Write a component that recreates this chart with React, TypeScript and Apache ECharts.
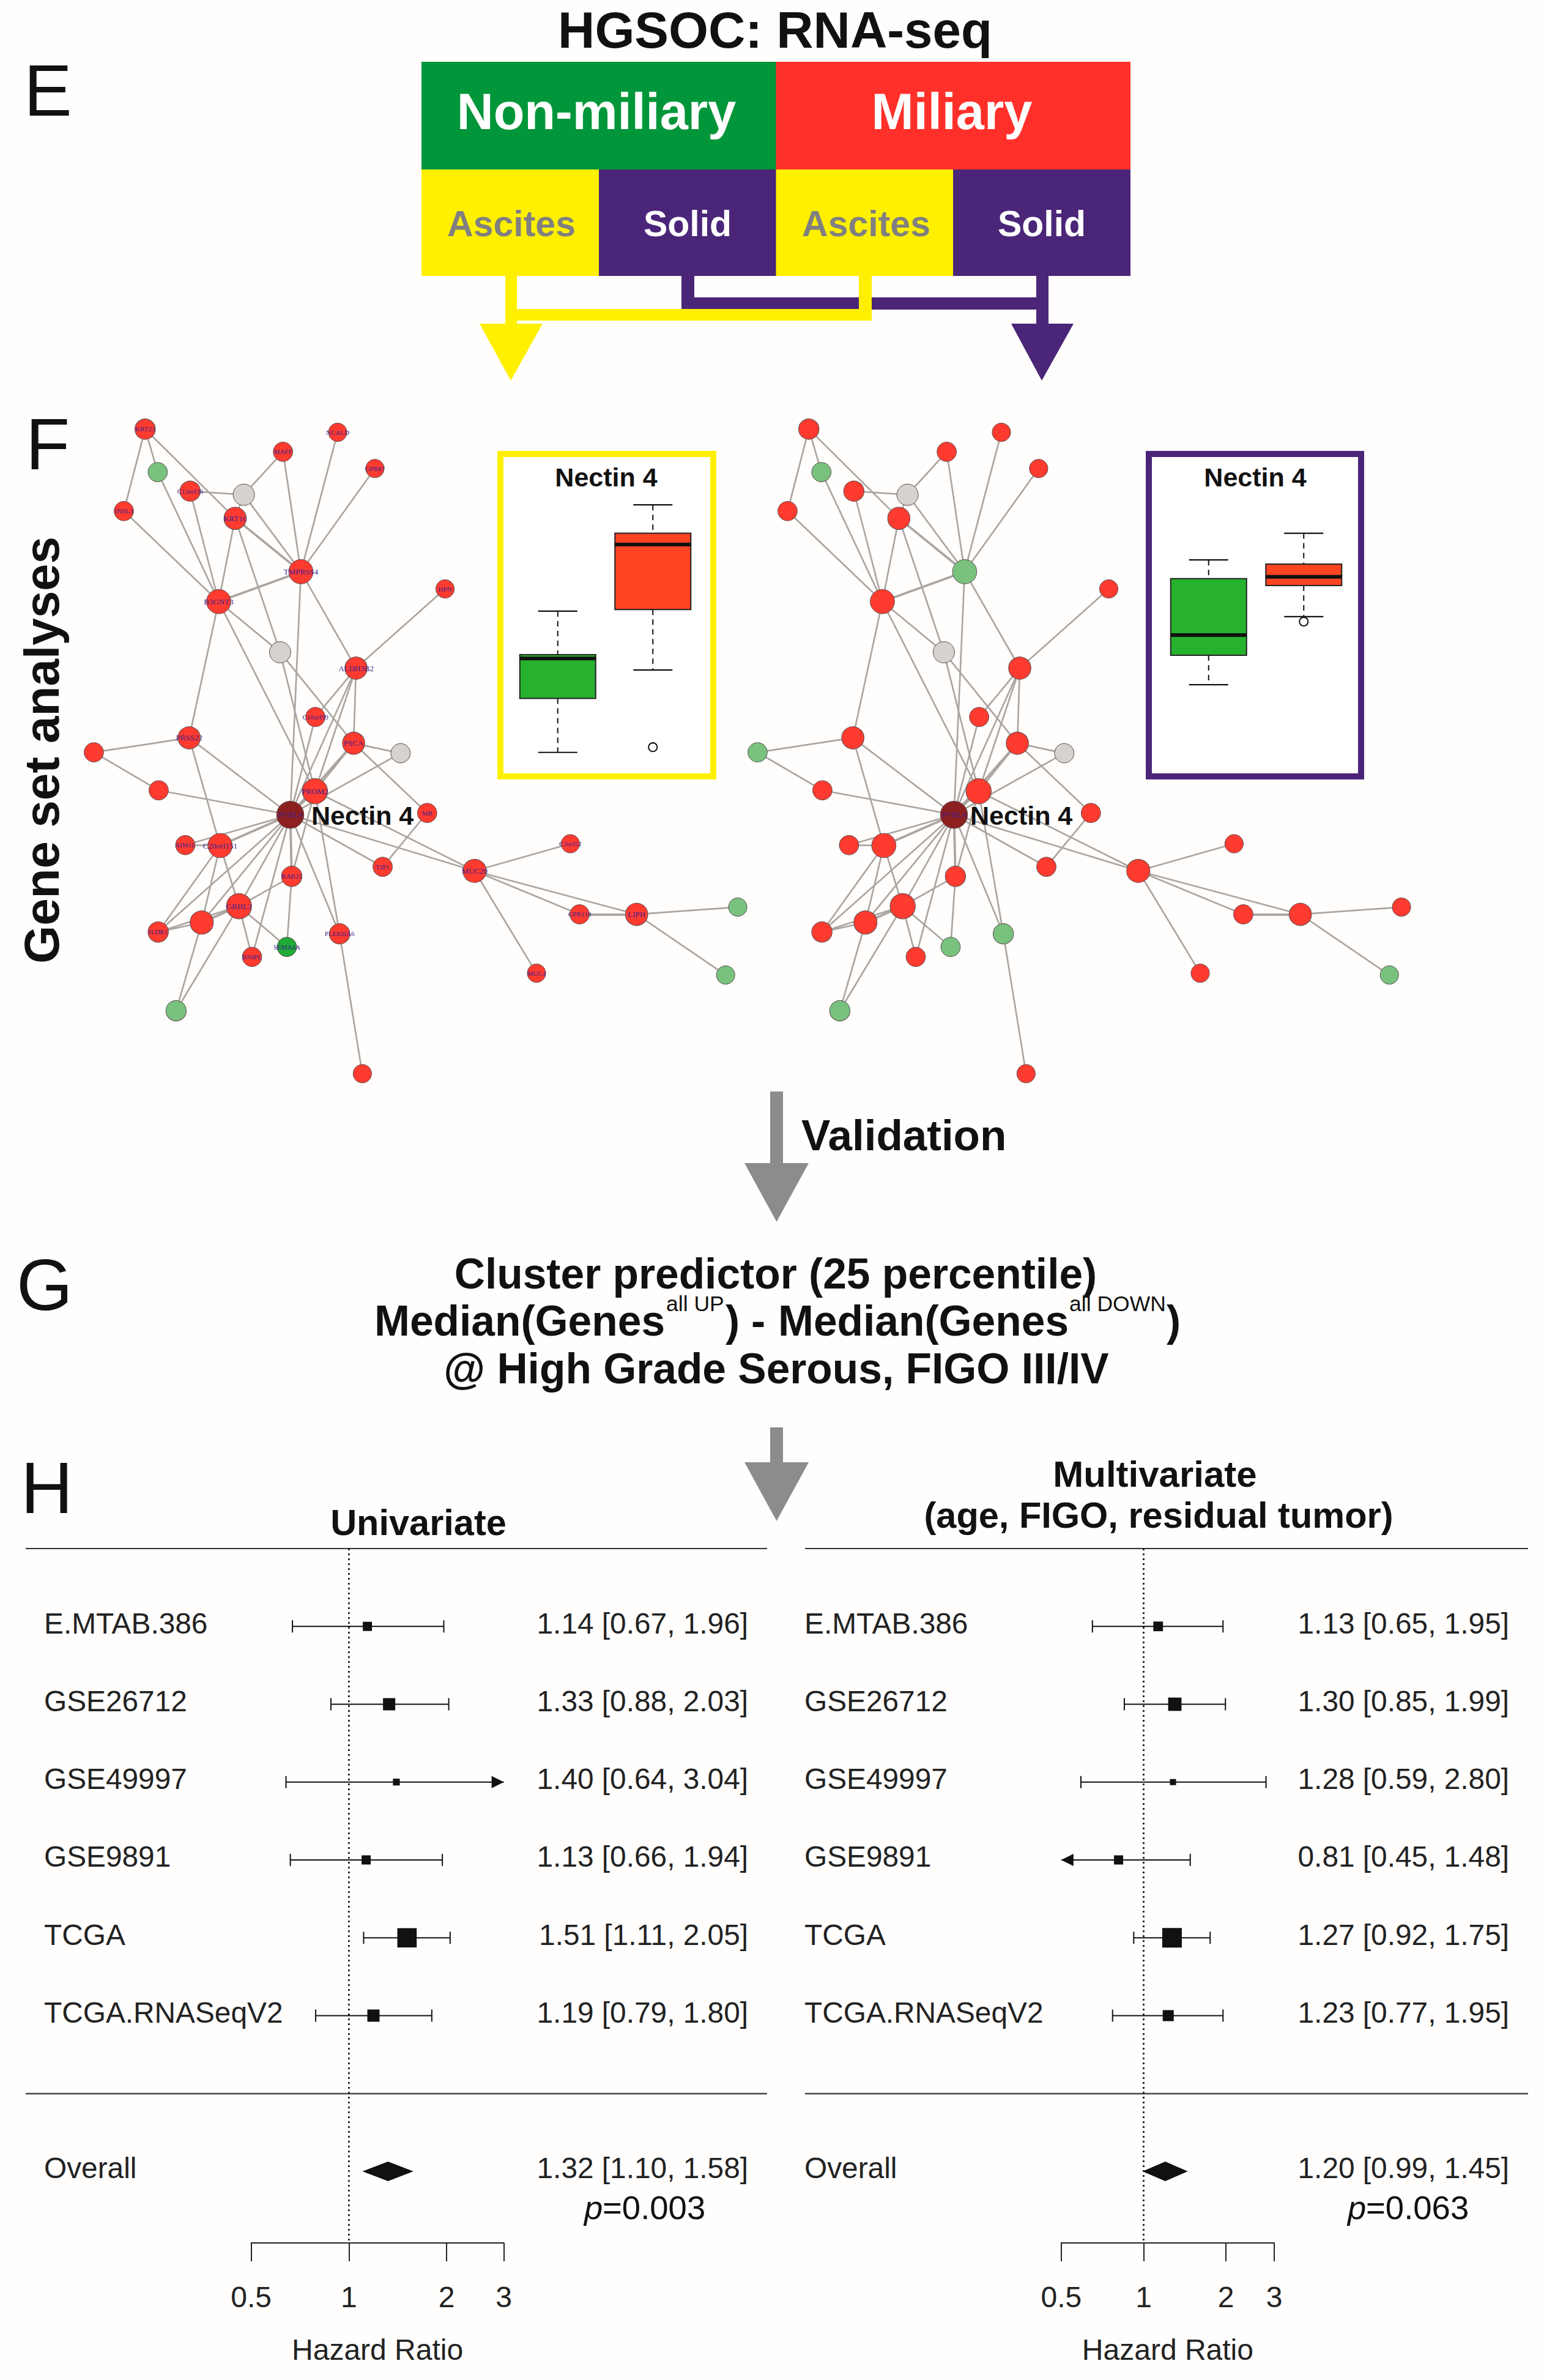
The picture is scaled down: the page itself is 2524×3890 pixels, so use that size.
import React, { useEffect, useRef } from "react";
import * as echarts from "echarts";

// ---------- network data (same layout for both networks) ----------
const geneNames = ["KRT23","","C13orf36","","KRT16","INSL3","MAFF","NCALD","GPR87","TMPRSS4","B3GNT3","HPN","","ALDH3B2","C10orf99","PSCA","PRSS22","","","","PROM2","PVRL4","MB","AIM1L","C20orf151","C3orf52","TJP1","MUC20","RAB25","GRHL2","GPR110","LIPH","","ILDR1","","PLEKHA6","SEMA4A","BNIPL","MUC4","","",""];
const layoutX = [300,326,393,504,486,256,585,698,775,622,452,920,579,736,652,731,391,194,328,828,651,600,883,383,455,1179,791,981,603,494,1198,1316,1525,327,417,702,593,521,1109,1500,364,749];
const layoutY = [83,178,220,228,280,264,133,90,170,398,464,436,576,611,719,777,765,797,881,799,883,935,931,1002,1003,999,1050,1059,1071,1137,1155,1155,1139,1194,1173,1198,1227,1249,1285,1289,1368,1507];
const nodeDegree = [21,20,21,22,23,20,20,19,19,25,25,19,22,23,20,23,23,20,20,20,26,28,20,20,25,19,20,24,21,26,20,23,19,21,24,21,20,20,19,19,21,19];
const leftStatus = ["up","pale","up","none","up","up","up","up","up","up","up","up","none","up","up","up","up","up","up","none","up","hub","up","up","up","up","up","up","up","up","up","up","pale","up","up","up","down","up","up","pale","pale","up"];
const rightStatus = ["up","pale","up","none","up","up","up","up","up","pale","up","up","none","up","up","up","up","pale","up","none","up","hub","up","up","up","up","up","up","up","up","up","up","up","up","up","pale","pale","up","up","pale","pale","up"];
const edgePairs: number[][] = [[0,5],[0,1],[0,4],[1,10],[2,3],[2,10],[3,6],[3,4],[3,9],[4,9],[4,10],[4,12],[5,10],[6,9],[7,9],[8,9],[9,10],[9,13],[9,21],[10,12],[10,16],[10,20],[11,13],[12,15],[12,20],[13,15],[13,21],[13,20],[13,14],[14,21],[15,19],[15,20],[15,21],[15,22],[16,17],[16,21],[16,24],[17,18],[18,21],[19,21],[20,21],[20,27],[20,28],[20,35],[21,24],[21,23],[21,26],[21,27],[21,28],[21,29],[21,33],[21,34],[21,35],[21,37],[22,26],[23,24],[24,29],[24,33],[24,34],[25,27],[27,30],[27,31],[27,38],[28,29],[28,36],[29,33],[29,34],[29,36],[29,37],[30,31],[31,32],[31,39],[33,34],[34,40],[29,40],[35,41]];
const heavyEdges = ["4-9","9-10","15-21","21-24","21-28","29-34","30-31"];

// ---------- box plot data (relative expression) ----------
const boxGroups = ["Non-miliary", "Miliary"];
const ascitesBoxes = [[0, 4.5, 24.1, 38.6, 40, 55.8], [1, 34.4, 56.4, 80, 84.1, 94.4]];
const ascitesOutliers = [[1, 6.4]];
const solidBoxes = [[0, 29.1, 39.8, 47.1, 67.6, 74.4], [1, 53.8, 65.1, 68.3, 72.9, 84.1]];
const solidOutliers = [[1, 52]];

// ---------- forest plot data ----------
const studies = ["E.MTAB.386", "GSE26712", "GSE49997", "GSE9891", "TCGA", "TCGA.RNASeqV2"];
const uniHR = [1.14, 1.33, 1.40, 1.13, 1.51, 1.19];
const uniLo = [0.67, 0.88, 0.64, 0.66, 1.11, 0.79];
const uniHi = [1.96, 2.03, 3.04, 1.94, 2.05, 1.80];
const uniWeight = [9, 16, 5, 9, 40, 16];
const uniOverall = [1.32, 1.10, 1.58];
const multiHR = [1.13, 1.30, 1.28, 0.81, 1.27, 1.23];
const multiLo = [0.65, 0.85, 0.59, 0.45, 0.92, 0.77];
const multiHi = [1.95, 1.99, 2.80, 1.48, 1.75, 1.95];
const multiWeight = [10, 19, 4, 9, 41, 13];
const multiOverall = [1.20, 0.99, 1.45];
const hrTicks = [0.5, 1, 2, 3];

// ---------- styling ----------
const SANS = "Liberation Sans";
const INK = "#111111";
const YELLOW = "#fff000";
const PURPLE = "#4b2678";
const GREY = "#8c8c8c";
const statusColor: Record<string, string> = { up: "#ff3b30", pale: "#78c27e", none: "#d6d2ce", hub: "#8c2020", down: "#1fab35" };

function txt(text: string, x: number, base: number, size: number, o: any = {}) {
  return {
    type: "text", silent: true, z: o.z ?? 1,
    style: {
      text, x, y: base - 0.3465 * size, fill: o.fill ?? INK, fontFamily: SANS, fontSize: size,
      fontWeight: o.bold ? "bold" : "normal", fontStyle: o.italic ? "italic" : "normal",
      align: o.align ?? "center", verticalAlign: "middle",
    },
  };
}
const box = (x: number, y: number, w: number, h: number, fill: string) => ({ type: "rect", silent: true, shape: { x, y, width: w, height: h }, style: { fill } });
const poly = (pts: number[][], fill: string) => ({ type: "polygon", silent: true, shape: { points: pts }, style: { fill } });
const hline = (x1: number, x2: number, y: number, w: number, c: string) => ({ type: "line", silent: true, shape: { x1, y1: y, x2, y2: y }, style: { stroke: c, lineWidth: w } });
const downArrow = (cx: number, y0: number, y1: number, y2: number, halfShaft: number, halfHead: number, c: string) => [
  box(cx - halfShaft, y0, 2 * halfShaft, y1 - y0 + 1, c),
  poly([[cx - halfHead, y1], [cx + halfHead, y1], [cx, y2]], c),
];

function graphics() {
  const g: any[] = [];
  g.push(txt("HGSOC: RNA-seq", 1267, 78, 83.5, { bold: true }));
  g.push(box(689, 101, 580, 176, "#009639"), box(1268.5, 101, 579.5, 176, "#ff3029"));
  g.push(box(689, 277, 290, 174, YELLOW), box(979, 277, 290, 174, PURPLE), box(1268.5, 277, 290, 174, YELLOW), box(1558, 277, 290, 174, PURPLE));
  g.push(txt("Non-miliary", 975, 211, 83, { bold: true, fill: "#ffffff" }), txt("Miliary", 1556, 211, 83, { bold: true, fill: "#ffffff" }));
  g.push(txt("Ascites", 836, 386, 59, { bold: true, fill: "#808080" }), txt("Solid", 1124, 386, 59, { bold: true, fill: "#ffffff" }));
  g.push(txt("Ascites", 1416, 386, 59, { bold: true, fill: "#808080" }), txt("Solid", 1703, 386, 59, { bold: true, fill: "#ffffff" }));
  // connectors
  g.push(box(1114, 451, 21, 55, PURPLE), box(1114, 486, 600, 20, PURPLE), box(1694, 451, 20, 80, PURPLE));
  g.push(box(826, 451, 19, 80, YELLOW), box(826, 505, 599, 19, YELLOW), box(1404, 451, 21, 73, YELLOW));
  g.push(poly([[784, 529], [887, 529], [835, 622]], YELLOW), poly([[1653, 529], [1755, 529], [1703, 622]], PURPLE));
  // panel letters
  g.push(txt("E", 39, 189, 118, { align: "left" }), txt("F", 42, 767, 118, { align: "left" }), txt("G", 27, 2141, 118, { align: "left" }), txt("H", 34, 2473, 118, { align: "left" }));
  // rotated title
  g.push({ type: "text", silent: true, x: 68.6, y: 1226, rotation: Math.PI / 2,
    style: { text: "Gene set analyses", x: 0, y: 0, fill: INK, fontFamily: SANS, fontSize: 80, fontWeight: "bold", align: "center", verticalAlign: "middle" } });
  // box frames
  g.push({ type: "rect", silent: true, shape: { x: 818, y: 742, width: 348, height: 527 }, style: { fill: "#ffffff", stroke: YELLOW, lineWidth: 10 } });
  g.push({ type: "rect", silent: true, shape: { x: 1878, y: 742, width: 347, height: 527 }, style: { fill: "#ffffff", stroke: PURPLE, lineWidth: 10 } });
  g.push(txt("Nectin 4", 991, 795, 43, { bold: true }), txt("Nectin 4", 2052, 795, 43, { bold: true }));
  // hub labels, above the networks
  g.push(txt("Nectin 4", 509, 1348, 43, { bold: true, align: "left", z: 10 }), txt("Nectin 4", 1586, 1348, 43, { bold: true, align: "left", z: 10 }));
  // arrows + flow text
  g.push(...downArrow(1269.5, 1784, 1901, 1997, 10.5, 52.5, GREY));
  g.push(txt("Validation", 1310, 1880, 71, { bold: true, align: "left" }));
  g.push(...downArrow(1269.5, 2333, 2390, 2486, 10.5, 52.5, GREY));
  g.push(txt("Cluster predictor (25 percentile)", 1268, 2106, 69.5, { bold: true }));
  g.push(txt("Median(Genes", 612, 2183, 69.5, { bold: true, align: "left" }));
  g.push(txt("all UP", 1089, 2143, 35.5, { align: "left" }));
  g.push(txt(")", 1186, 2183, 69.5, { bold: true, align: "left" }));
  g.push(txt("-", 1228, 2183, 69.5, { bold: true, align: "left" }));
  g.push(txt("Median(Genes", 1272, 2183, 69.5, { bold: true, align: "left" }));
  g.push(txt("all DOWN", 1748, 2143, 35.5, { align: "left" }));
  g.push(txt(")", 1907, 2183, 69.5, { bold: true, align: "left" }));
  g.push(txt("@ High Grade Serous, FIGO III/IV", 1269, 2261, 69.5, { bold: true }));
  // forest headers
  g.push(txt("Univariate", 684, 2509, 59.5, { bold: true }));
  g.push(txt("Multivariate", 1888, 2430.5, 60, { bold: true }), txt("(age, FIGO, residual tumor)", 1894, 2497, 59.5, { bold: true }));
  g.push(hline(42, 1254, 2531, 2, "#333333"), hline(1316, 2498, 2531, 2, "#333333"));
  g.push(hline(42, 1254, 3422, 2.5, "#444444"), hline(1316, 2498, 3422, 2.5, "#444444"));
  // p values
  g.push(txt("p", 955, 3627, 54.5, { italic: true, align: "left" }), txt("=0.003", 985, 3627, 54.5, { align: "left" }));
  g.push(txt("p", 2203, 3627, 54.5, { italic: true, align: "left" }), txt("=0.063", 2233, 3627, 54.5, { align: "left" }));
  return g;
}

function networkSeries(status: string[], idx: number, labelled: boolean) {
  return {
    type: "graph", coordinateSystem: "cartesian2d", xAxisIndex: idx, yAxisIndex: idx, silent: true, z: 3,
    edgeSymbol: ["none", "none"],
    data: layoutX.map((x, i) => ({
      id: String(i), name: geneNames[i], value: [x, layoutY[i]],
      symbolSize: (2 * nodeDegree[i]) / 1.26,
      itemStyle: { color: statusColor[status[i]], borderColor: "#5a4a4a", borderWidth: 1, opacity: 1 },
      label: {
        show: (labelled || status[i] === "hub") && geneNames[i] !== "",
        position: "inside", color: "#3d1f8c", fontFamily: "Liberation Serif",
        fontSize: nodeDegree[i] >= 23 ? 13 : 11,
        formatter: "{b}",
      },
    })),
    links: edgePairs.map(([a, b]) => ({
      source: a, target: b,
      lineStyle: { color: "#aca5a0", opacity: 1, curveness: 0, width: heavyEdges.includes(`${a}-${b}`) ? 3.8 : 2.7 },
    })),
    emphasis: { disabled: true },
  };
}

function boxRender(fills: string[]) {
  return (_p: any, api: any) => {
    const i = api.value(0);
    const at = (v: number) => api.coord([i, v]);
    const cx = at(api.value(3))[0];
    const yLo = at(api.value(1))[1], yQ1 = at(api.value(2))[1], yMed = at(api.value(3))[1], yQ3 = at(api.value(4))[1], yHi = at(api.value(5))[1];
    const seg = (x1: number, y1: number, x2: number, y2: number, w: number, dash?: number[]) => ({
      type: "line", shape: { x1, y1, x2, y2 }, style: { stroke: "#111111", lineWidth: w, lineDash: dash },
    });
    return {
      type: "group",
      children: [
        seg(cx, yHi, cx, yQ3, 2, [9, 7]), seg(cx, yQ1, cx, yLo, 2, [9, 7]),
        seg(cx - 32, yHi, cx + 32, yHi, 2.2), seg(cx - 32, yLo, cx + 32, yLo, 2.2),
        { type: "rect", shape: { x: cx - 62, y: yQ3, width: 124, height: yQ1 - yQ3 }, style: { fill: fills[i], stroke: "#222222", lineWidth: 2 } },
        seg(cx - 62, yMed, cx + 62, yMed, 6),
      ],
    };
  };
}

function boxSeries(rows: number[][], outliers: number[][], idx: number) {
  return [
    { type: "custom", xAxisIndex: idx, yAxisIndex: idx, z: 4, silent: true, data: rows,
      encode: { x: 0, y: [1, 2, 3, 4, 5] }, renderItem: boxRender(["#26b12e", "#ff4422"]) },
    { type: "scatter", xAxisIndex: idx, yAxisIndex: idx, z: 5, silent: true, data: outliers, symbol: "circle", symbolSize: 14,
      itemStyle: { color: "#ffffff", borderColor: "#111111", borderWidth: 2, opacity: 1 } },
  ];
}

function forestRender(labelX: number, valueX: number) {
  return (_p: any, api: any) => {
    const row = api.value(0), hr = api.value(1), lo = api.value(2), hi = api.value(3), weight = api.value(4);
    const name = studies[api.value(5)] ?? "Overall";
    const [px, y] = api.coord([hr, row]);
    const xMin = api.coord([hrTicks[0], row])[0];
    const xMax = api.coord([hrTicks[hrTicks.length - 1], row])[0];
    const xl = api.coord([Math.max(lo, hrTicks[0]), row])[0];
    const xh = api.coord([Math.min(hi, hrTicks[hrTicks.length - 1]), row])[0];
    const stroke = { stroke: "#111111", lineWidth: 2 };
    const text = (t: string, x: number, align: string) => ({
      type: "text", style: { text: t, x, y: y - 5, fill: "#222222", fontFamily: SANS, fontSize: 47.8, align, verticalAlign: "middle" },
    });
    const children: any[] = [text(name, labelX, "left"), text(`${hr.toFixed(2)} [${lo.toFixed(2)}, ${hi.toFixed(2)}]`, valueX, "right")];
    if (weight === 0) {
      children.push({ type: "polygon", shape: { points: [[xl, y], [px, y - 16], [xh, y], [px, y + 16]] }, style: { fill: "#111111" } });
    } else {
      children.push({ type: "line", shape: { x1: xl, y1: y, x2: xh, y2: y }, style: stroke });
      if (lo >= hrTicks[0]) children.push({ type: "line", shape: { x1: xl, y1: y - 10, x2: xl, y2: y + 10 }, style: stroke });
      else children.push({ type: "polygon", shape: { points: [[xMin, y], [xMin + 20, y - 10], [xMin + 20, y + 10]] }, style: { fill: "#111111" } });
      if (hi <= hrTicks[hrTicks.length - 1]) children.push({ type: "line", shape: { x1: xh, y1: y - 10, x2: xh, y2: y + 10 }, style: stroke });
      else children.push({ type: "polygon", shape: { points: [[xMax, y], [xMax - 20, y - 10], [xMax - 20, y + 10]] }, style: { fill: "#111111" } });
      const s = 5 * Math.sqrt(weight);
      children.push({ type: "rect", shape: { x: px - s / 2, y: y - s / 2, width: s, height: s }, style: { fill: "#111111" } });
    }
    return { type: "group", children };
  };
}

function forestSeries(hr: number[], lo: number[], hi: number[], w: number[], overall: number[], idx: number, labelX: number, valueX: number) {
  const rows = hr.map((v, i) => [i, v, lo[i], hi[i], w[i], i]);
  rows.push([7, overall[0], overall[1], overall[2], 0, -1]);
  return [
    { type: "line", xAxisIndex: idx, yAxisIndex: idx, silent: true, symbol: "none", z: 3, data: [[1, -1], [1, 7.92]],
      lineStyle: { color: "#111111", width: 2.6, type: [3, 5] } },
    { type: "custom", xAxisIndex: idx, yAxisIndex: idx, silent: true, z: 4, data: rows, encode: { x: 1, y: 0 }, renderItem: forestRender(labelX, valueX) },
  ];
}

const forestX = (gridIndex: number) => ({
  type: "log", logBase: 2, min: hrTicks[0], max: hrTicks[hrTicks.length - 1], gridIndex,
  name: "Hazard Ratio", nameLocation: "middle", nameGap: 150,
  nameTextStyle: { fontFamily: SANS, fontSize: 48, color: "#222222" },
  axisLine: { show: true, onZero: false, lineStyle: { color: "#222222", width: 2 } },
  axisTick: { show: true, length: 30, customValues: hrTicks, lineStyle: { color: "#222222", width: 2 } },
  axisLabel: { show: true, margin: 64, customValues: hrTicks, fontFamily: SANS, fontSize: 48, color: "#222222", formatter: (v: number) => String(v) },
  minorTick: { show: false }, splitLine: { show: false },
});
const forestY = (gridIndex: number) => ({ type: "value", min: -1, max: 7.92, inverse: true, show: false, gridIndex, splitLine: { show: false } });

export default function App() {
  const ref = useRef<HTMLDivElement>(null);
  useEffect(() => {
    document.body.style.margin = "0";
    const chart = echarts.init(ref.current!, null, { renderer: "svg" });
    const hidden = (gridIndex: number, inverse = false) => ({ type: "value", min: 0, max: 1568, inverse, show: false, gridIndex, splitLine: { show: false } });
    chart.setOption({
      animation: false,
      backgroundColor: "#fffefd",
      tooltip: { show: false },
      graphic: { elements: graphics() },
      grid: [
        { left: 0, top: 640, width: 1240, height: 1160 },
        { left: 1085, top: 640, width: 1240, height: 1160 },
        { left: 834, top: 800, width: 311, height: 450 },
        { left: 1898, top: 800, width: 311, height: 450 },
        { left: 410.6, top: 2531, width: 413, height: 1135 },
        { left: 1734.8, top: 2531, width: 348.2, height: 1135 },
      ],
      xAxis: [
        hidden(0), hidden(1),
        { type: "category", data: boxGroups, show: false, gridIndex: 2 },
        { type: "category", data: boxGroups, show: false, gridIndex: 3 },
        forestX(4), forestX(5),
      ],
      yAxis: [
        hidden(0, true), hidden(1, true),
        { type: "value", min: 0, max: 100, show: false, gridIndex: 2, splitLine: { show: false } },
        { type: "value", min: 0, max: 100, show: false, gridIndex: 3, splitLine: { show: false } },
        forestY(4), forestY(5),
      ],
      series: [
        networkSeries(leftStatus, 0, true),
        networkSeries(rightStatus, 1, false),
        ...boxSeries(ascitesBoxes, ascitesOutliers, 2),
        ...boxSeries(solidBoxes, solidOutliers, 3),
        ...forestSeries(uniHR, uniLo, uniHi, uniWeight, uniOverall, 4, 72, 1223),
        ...forestSeries(multiHR, multiLo, multiHi, multiWeight, multiOverall, 5, 1315, 2467),
      ],
    });
    return () => chart.dispose();
  }, []);
  return <div ref={ref} style={{ position: "absolute", left: 0, top: 0, width: 2524, height: 3890 }} />;
}
